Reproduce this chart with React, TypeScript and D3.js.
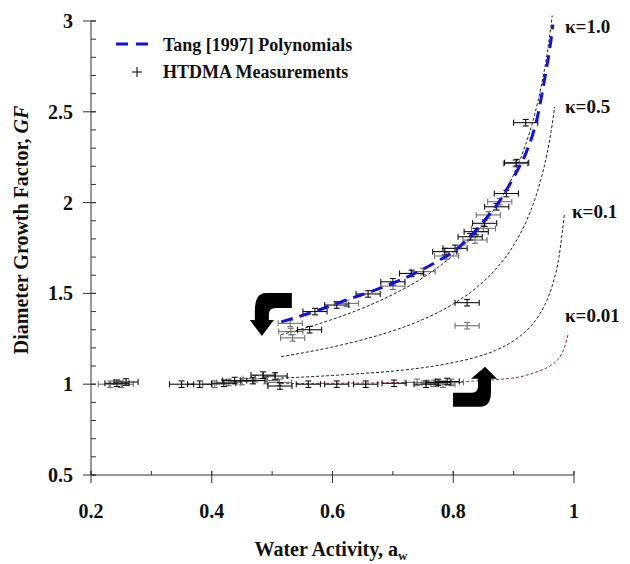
import * as d3 from 'd3';

const WIDTH = 630;
const HEIGHT = 564;
const FONT = '"Liberation Serif", "Times New Roman", serif';

// axis ticks
const xTicks = [0.2, 0.4, 0.6, 0.8, 1];
const xTickLabels = ['0.2', '0.4', '0.6', '0.8', '1'];
const yTicks = [0.5, 1, 1.5, 2, 2.5, 3];
const yTickLabels = ['0.5', '1', '1.5', '2', '2.5', '3'];

// Tang [1997] polynomial curve, [aw, GF]
const tangCurve = [
  [0.515, 1.343], [0.57, 1.4], [0.62, 1.46], [0.68, 1.53], [0.73, 1.6],
  [0.77, 1.67], [0.8, 1.73], [0.83, 1.82], [0.855, 1.915], [0.875, 2.0],
  [0.89, 2.08], [0.905, 2.17], [0.92, 2.27], [0.932, 2.38], [0.94, 2.48],
  [0.947, 2.6], [0.954, 2.73], [0.96, 2.85], [0.965, 2.98],
];

// kappa curves, [aw, GF]
const kappa100 = [
  [0.515, 1.273], [0.55, 1.305], [0.6, 1.357], [0.65, 1.419], [0.7, 1.494],
  [0.75, 1.587], [0.8, 1.71], [0.84, 1.842], [0.87, 1.974], [0.9, 2.154],
  [0.92, 2.321], [0.935, 2.487], [0.945, 2.63], [0.955, 2.81], [0.964, 3.03],
];
const kappa050 = [
  [0.515, 1.152], [0.55, 1.172], [0.6, 1.205], [0.65, 1.245], [0.7, 1.294],
  [0.75, 1.357], [0.8, 1.442], [0.84, 1.536], [0.87, 1.632], [0.9, 1.765],
  [0.92, 1.89], [0.935, 2.016], [0.945, 2.125], [0.955, 2.264], [0.962, 2.391],
  [0.968, 2.526],
];
const kappa010 = [
  [0.515, 1.034], [0.55, 1.039], [0.6, 1.048], [0.65, 1.059], [0.7, 1.072],
  [0.75, 1.091], [0.8, 1.119], [0.84, 1.151], [0.87, 1.186], [0.9, 1.239],
  [0.92, 1.291], [0.94, 1.369], [0.955, 1.461], [0.965, 1.554], [0.975, 1.698],
  [0.984, 1.935],
];
const kappa001 = [
  [0.515, 1.003], [0.6, 1.005], [0.7, 1.008], [0.8, 1.013], [0.87, 1.025],
  [0.91, 1.04], [0.94, 1.07], [0.96, 1.1], [0.972, 1.13], [0.98, 1.17],
  [0.985, 1.21], [0.9905, 1.28],
];

// HTDMA measurements, [aw, GF]
const htdmaBlack = [
  [0.243, 1.005], [0.258, 1.012], [0.35, 1.0], [0.38, 1.0], [0.42, 1.005],
  [0.438, 1.02], [0.468, 1.02], [0.485, 1.05], [0.505, 1.045], [0.513, 0.99],
  [0.56, 1.0], [0.607, 1.0], [0.655, 1.0], [0.702, 1.005], [0.755, 1.0],
  [0.775, 1.01], [0.79, 1.015],
  [0.562, 1.3], [0.571, 1.4], [0.607, 1.436], [0.659, 1.497], [0.7, 1.564],
  [0.731, 1.61], [0.786, 1.73], [0.803, 1.748], [0.828, 1.812], [0.838, 1.84],
  [0.852, 1.886], [0.872, 1.977], [0.888, 2.05], [0.905, 2.22], [0.92, 2.44],
  [0.823, 1.449],
];
const htdmaGray = [
  [0.232, 1.0], [0.25, 1.0], [0.405, 1.0], [0.428, 1.01], [0.45, 1.015],
  [0.472, 1.03], [0.49, 1.02], [0.512, 1.01], [0.74, 1.01], [0.768, 1.005],
  [0.783, 1.0], [0.797, 1.01],
  [0.53, 1.335], [0.531, 1.29], [0.534, 1.255], [0.623, 1.445], [0.7, 1.54],
  [0.75, 1.62], [0.789, 1.706], [0.836, 1.794], [0.85, 1.858], [0.858, 1.932],
  [0.877, 2.005], [0.903, 2.215], [0.823, 1.322],
];
const awErr = 0.02;
const gfErr = 0.018;

// curved annotation arrows: tip position [aw, GF]
const arrowDownTip = [0.483, 1.265];
const arrowUpTip = [0.8526, 1.096];

const kappaLabels = [
  { text: '\u03ba=1.0', dx: 565, dy: 33 },
  { text: '\u03ba=0.5', dx: 565, dy: 113 },
  { text: '\u03ba=0.1', dx: 572, dy: 218 },
  { text: '\u03ba=0.01', dx: 565, dy: 322 },
];

const x = d3.scaleLinear().domain([0.2, 1]).range([91, 574]);
const y = d3.scaleLinear().domain([0.5, 3]).range([475, 21]);

const line = d3.line<number[]>()
  .x(d => x(d[0]))
  .y(d => y(d[1]))
  .curve(d3.curveMonotoneX);

function Marks({ data, color }: { data: number[][]; color: string }) {
  return (
    <g stroke={color} strokeWidth={1.1} fill="none">
      {data.map((d, i) => {
        const cx = x(d[0]);
        const cy = y(d[1]);
        const x0 = x(d[0] - awErr);
        const x1 = x(d[0] + awErr);
        const y0 = y(d[1] - gfErr);
        const y1 = y(d[1] + gfErr);
        return (
          <g key={i}>
            <line x1={x0} x2={x1} y1={cy} y2={cy} />
            <line x1={x0} x2={x0} y1={cy - 3} y2={cy + 3} />
            <line x1={x1} x2={x1} y1={cy - 3} y2={cy + 3} />
            <line x1={cx} x2={cx} y1={y0} y2={y1} />
            <line x1={cx - 3} x2={cx + 3} y1={y0} y2={y0} />
            <line x1={cx - 3} x2={cx + 3} y1={y1} y2={y1} />
          </g>
        );
      })}
    </g>
  );
}

export default function App() {
  const xMinor = x.ticks(8);
  const yMinor = y.ticks(25);
  const t1 = [x(arrowDownTip[0]), y(arrowDownTip[1])];
  const t2 = [x(arrowUpTip[0]), y(arrowUpTip[1])];

  return (
    <svg width={WIDTH} height={HEIGHT} style={{ position: 'absolute', left: 0, top: 0, background: '#fff' }}
      fontFamily={FONT} fontWeight="bold">
      {/* kappa curves */}
      <g fill="none" strokeWidth={1} strokeDasharray="3,2">
        <path d={line(kappa100)!} stroke="#222" />
        <path d={line(kappa050)!} stroke="#222" />
        <path d={line(kappa010)!} stroke="#222" />
        <path d={line(kappa001)!} stroke="#9b2c2c" />
      </g>

      <Marks data={htdmaGray} color="#707070" />
      <Marks data={htdmaBlack} color="#111" />

      <path d={line(tangCurve)!} fill="none" stroke="#1010e8" strokeWidth={3} strokeDasharray="12,7" />

      {/* arrows */}
      <path transform={`translate(${t1[0]},${t1[1]})`} fill="#000"
        d="M30,-43 L4,-43 Q-7,-43 -7,-25 L-7,-16 L-12,-16 L0,0 L12,-16 L7,-16 L7,-22 Q7,-28 14,-28 L30,-28 Z" />
      <path transform={`translate(${t2[0]},${t2[1]})`} fill="#000"
        d="M-32,40 L-5,40 Q6,40 6,25 L6,12 L12,12 L0,0 L-14,12 L-7,12 L-7,20 Q-7,26 -14,26 L-32,26 Z" />

      {/* axes */}
      <g stroke="#333" strokeWidth={1}>
        <line x1={x(0.2)} x2={x(1)} y1={y(0.5)} y2={y(0.5)} />
        <line x1={x(0.2)} x2={x(0.2)} y1={y(0.5)} y2={y(3)} />
        {xMinor.map(v => (
          <line key={'xm' + v} x1={x(v)} x2={x(v)} y1={y(0.5)} y2={y(0.5) - 4} />
        ))}
        {xTicks.map(v => (
          <line key={'x' + v} x1={x(v)} x2={x(v)} y1={y(0.5) - 4} y2={y(0.5) + 8} />
        ))}
        {yMinor.map(v => (
          <line key={'ym' + v} x1={x(0.2)} x2={x(0.2) + 5} y1={y(v)} y2={y(v)} />
        ))}
        {yTicks.map(v => (
          <line key={'y' + v} x1={x(0.2) - 8} x2={x(0.2) + 5} y1={y(v)} y2={y(v)} />
        ))}
      </g>
      <g fontSize={20} fill="#111">
        {xTicks.map((v, i) => (
          <text key={'xl' + v} x={x(v)} y={518} textAnchor="middle">{xTickLabels[i]}</text>
        ))}
        {yTicks.map((v, i) => (
          <text key={'yl' + v} x={73} y={y(v) + 7} textAnchor="end">{yTickLabels[i]}</text>
        ))}
      </g>

      {/* axis titles */}
      <text x={331} y={556} textAnchor="middle" fontSize={20} fill="#111">
        Water Activity, a<tspan fontSize={13} dy={4}>w</tspan>
      </text>
      <text transform="translate(28,230) rotate(-90)" textAnchor="middle" fontSize={20} fill="#111">
        Diameter Growth Factor, <tspan fontStyle="italic">GF</tspan>
      </text>

      {/* legend */}
      <line x1={116} x2={150} y1={44} y2={44} stroke="#1010e8" strokeWidth={3} strokeDasharray="12,8" />
      <text x={163} y={51} fontSize={18} fill="#111">Tang [1997] Polynomials</text>
      <g stroke="#111" strokeWidth={1.1}>
        <line x1={132} x2={142} y1={72} y2={72} />
        <line x1={137} x2={137} y1={67} y2={77} />
      </g>
      <text x={163} y={78} fontSize={18} fill="#111">HTDMA Measurements</text>

      {/* kappa labels */}
      <g fontSize={19} fill="#111">
        {kappaLabels.map(k => (
          <text key={k.text} x={k.dx} y={k.dy}>{k.text}</text>
        ))}
      </g>
    </svg>
  );
}
